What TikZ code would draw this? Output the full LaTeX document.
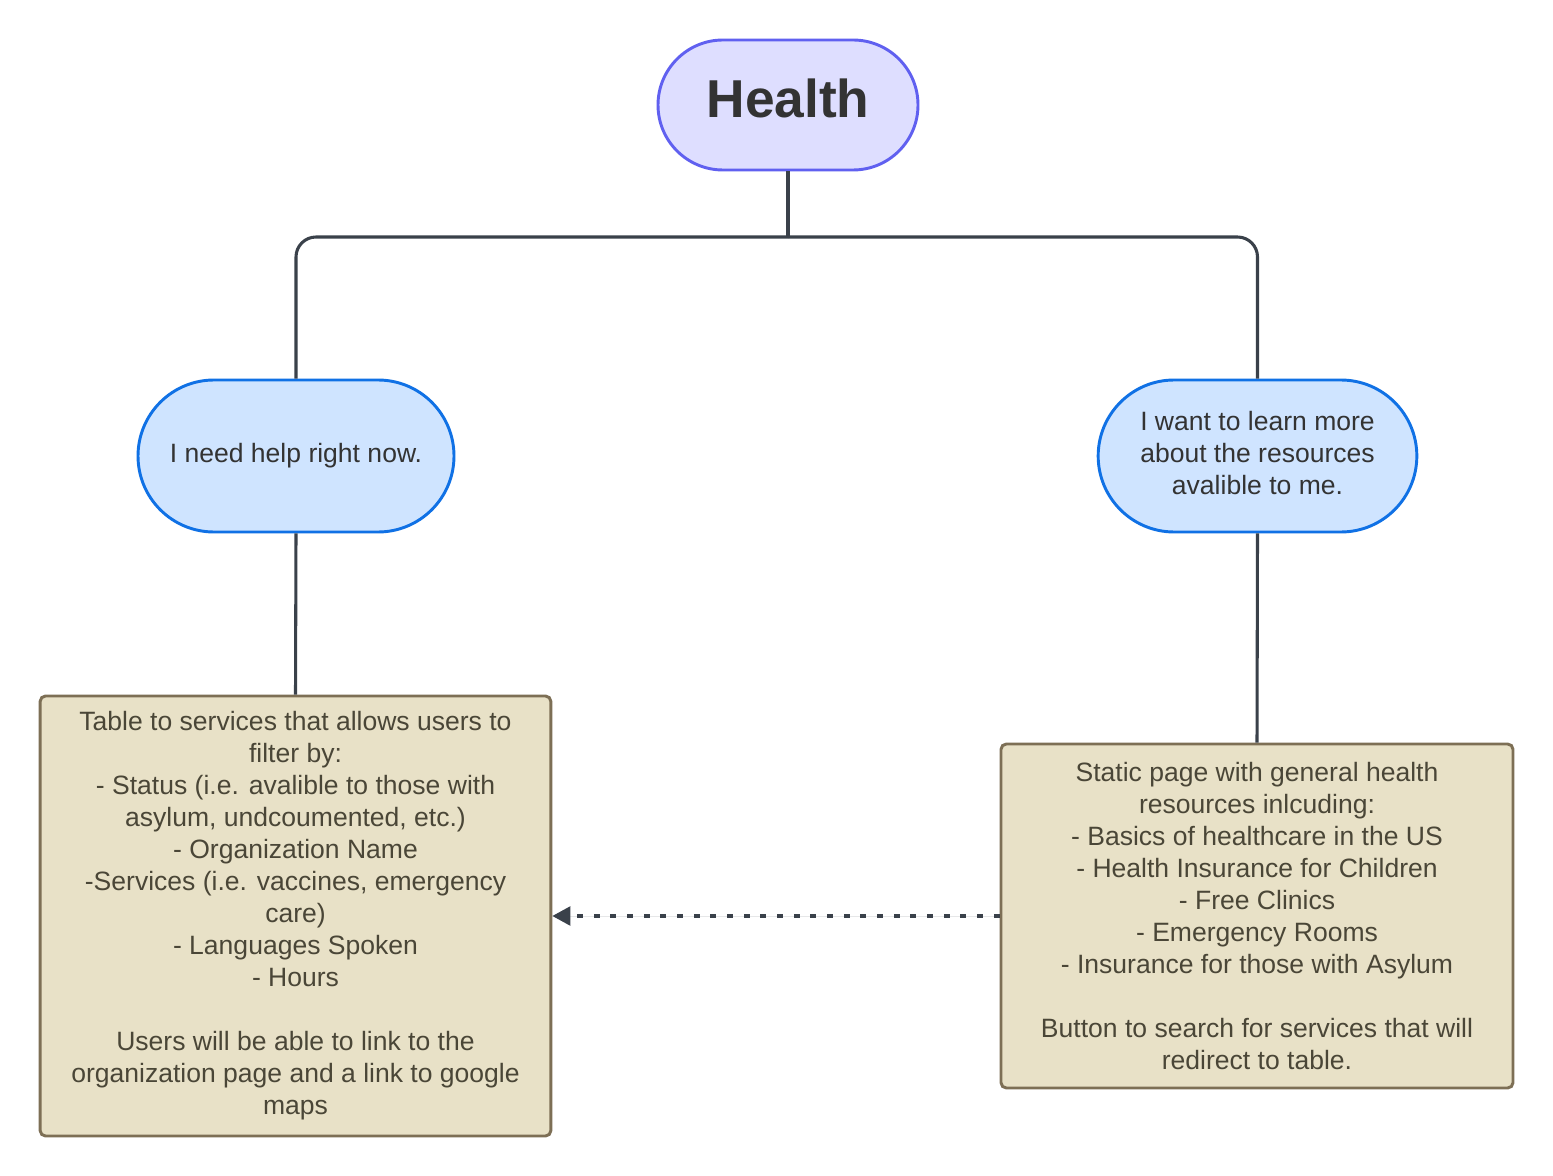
\documentclass[tikz,border=0pt]{standalone}
\usepackage{fontspec}
\setmainfont{Liberation Sans}
\usetikzlibrary{shapes.misc,arrows.meta}
\definecolor{hfill}{HTML}{DEDEFF}
\definecolor{hdraw}{HTML}{6060F0}
\definecolor{bfill}{HTML}{CFE4FF}
\definecolor{bdraw}{HTML}{1071E5}
\definecolor{tfill}{HTML}{E8E1C7}
\definecolor{tdraw}{HTML}{7D6F55}
\definecolor{ttext}{HTML}{4A4637}
\definecolor{dtext}{HTML}{333333}
\definecolor{conn}{HTML}{3A414A}
\tikzset{
  pill/.style={rounded rectangle, draw, line width=2.2pt, inner sep=0pt, align=center, text=dtext},
  tanbox/.style={rectangle, draw=tdraw, fill=tfill, line width=2.2pt, rounded corners=4pt, inner sep=0pt, align=center, text=ttext, font=\fontsize{19.9}{24}\selectfont},
  link/.style={draw=conn, line width=2.3pt},
}
\begin{document}
\begin{tikzpicture}[x=0.75pt,y=-0.75pt]
\useasboundingbox[fill=white] (0,0) rectangle (1553,1176);
\node[pill, draw=hdraw, fill=hfill, minimum width=195pt, minimum height=97.5pt,
      font=\fontsize{40}{44}\selectfont\bfseries] (health) at (788,105) {\raisebox{10pt}{Health}};
\node[pill, draw=bdraw, fill=bfill, minimum width=237pt, minimum height=114pt,
      font=\fontsize{19.9}{24}\selectfont] (now) at (296,456) {I need help right now.};
\node[pill, draw=bdraw, fill=bfill, minimum width=239pt, minimum height=114pt,
      font=\fontsize{19.9}{24}\selectfont] (learn) at (1257.5,456) {\raisebox{3pt}{\begin{tabular}{@{}c@{}}I want to learn more\\about the resources\\avalible to me.\end{tabular}}};
\node[tanbox, minimum width=383pt, minimum height=330pt] (table) at (295.5,916)
 {Table to services that allows users to\\filter by:\\- Status (i.e. avalible to those with\\asylum, undcoumented, etc.)\\- Organization Name\\-Services (i.e. vaccines, emergency\\care)\\- Languages Spoken\\- Hours\\[24pt]Users will be able to link to the\\organization page and a link to google\\maps};
\node[tanbox, minimum width=384pt, minimum height=258pt] (static) at (1257,916)
 {Static page with general health\\resources inlcuding:\\- Basics of healthcare in the US\\- Health Insurance for Children\\- Free Clinics\\- Emergency Rooms\\- Insurance for those with Asylum\\[24pt]Button to search for services that will\\redirect to table.};
\coordinate (split) at (788,237);
\draw[link] (health.south) -- (split);
\draw[link, rounded corners=15pt] (split) -| (now.north);
\draw[link, rounded corners=15pt] (split) -| (learn.north);
\draw[link] (now.south) -- (table.north);
\draw[link] (learn.south) -- (static.north);
\draw[draw=conn, line width=2.4pt, dash pattern=on 4.5pt off 8pt, -{Triangle[length=13.5pt,width=14pt]}, fill=conn]
  (static.west) -- (table.east);
\end{tikzpicture}
\end{document}
